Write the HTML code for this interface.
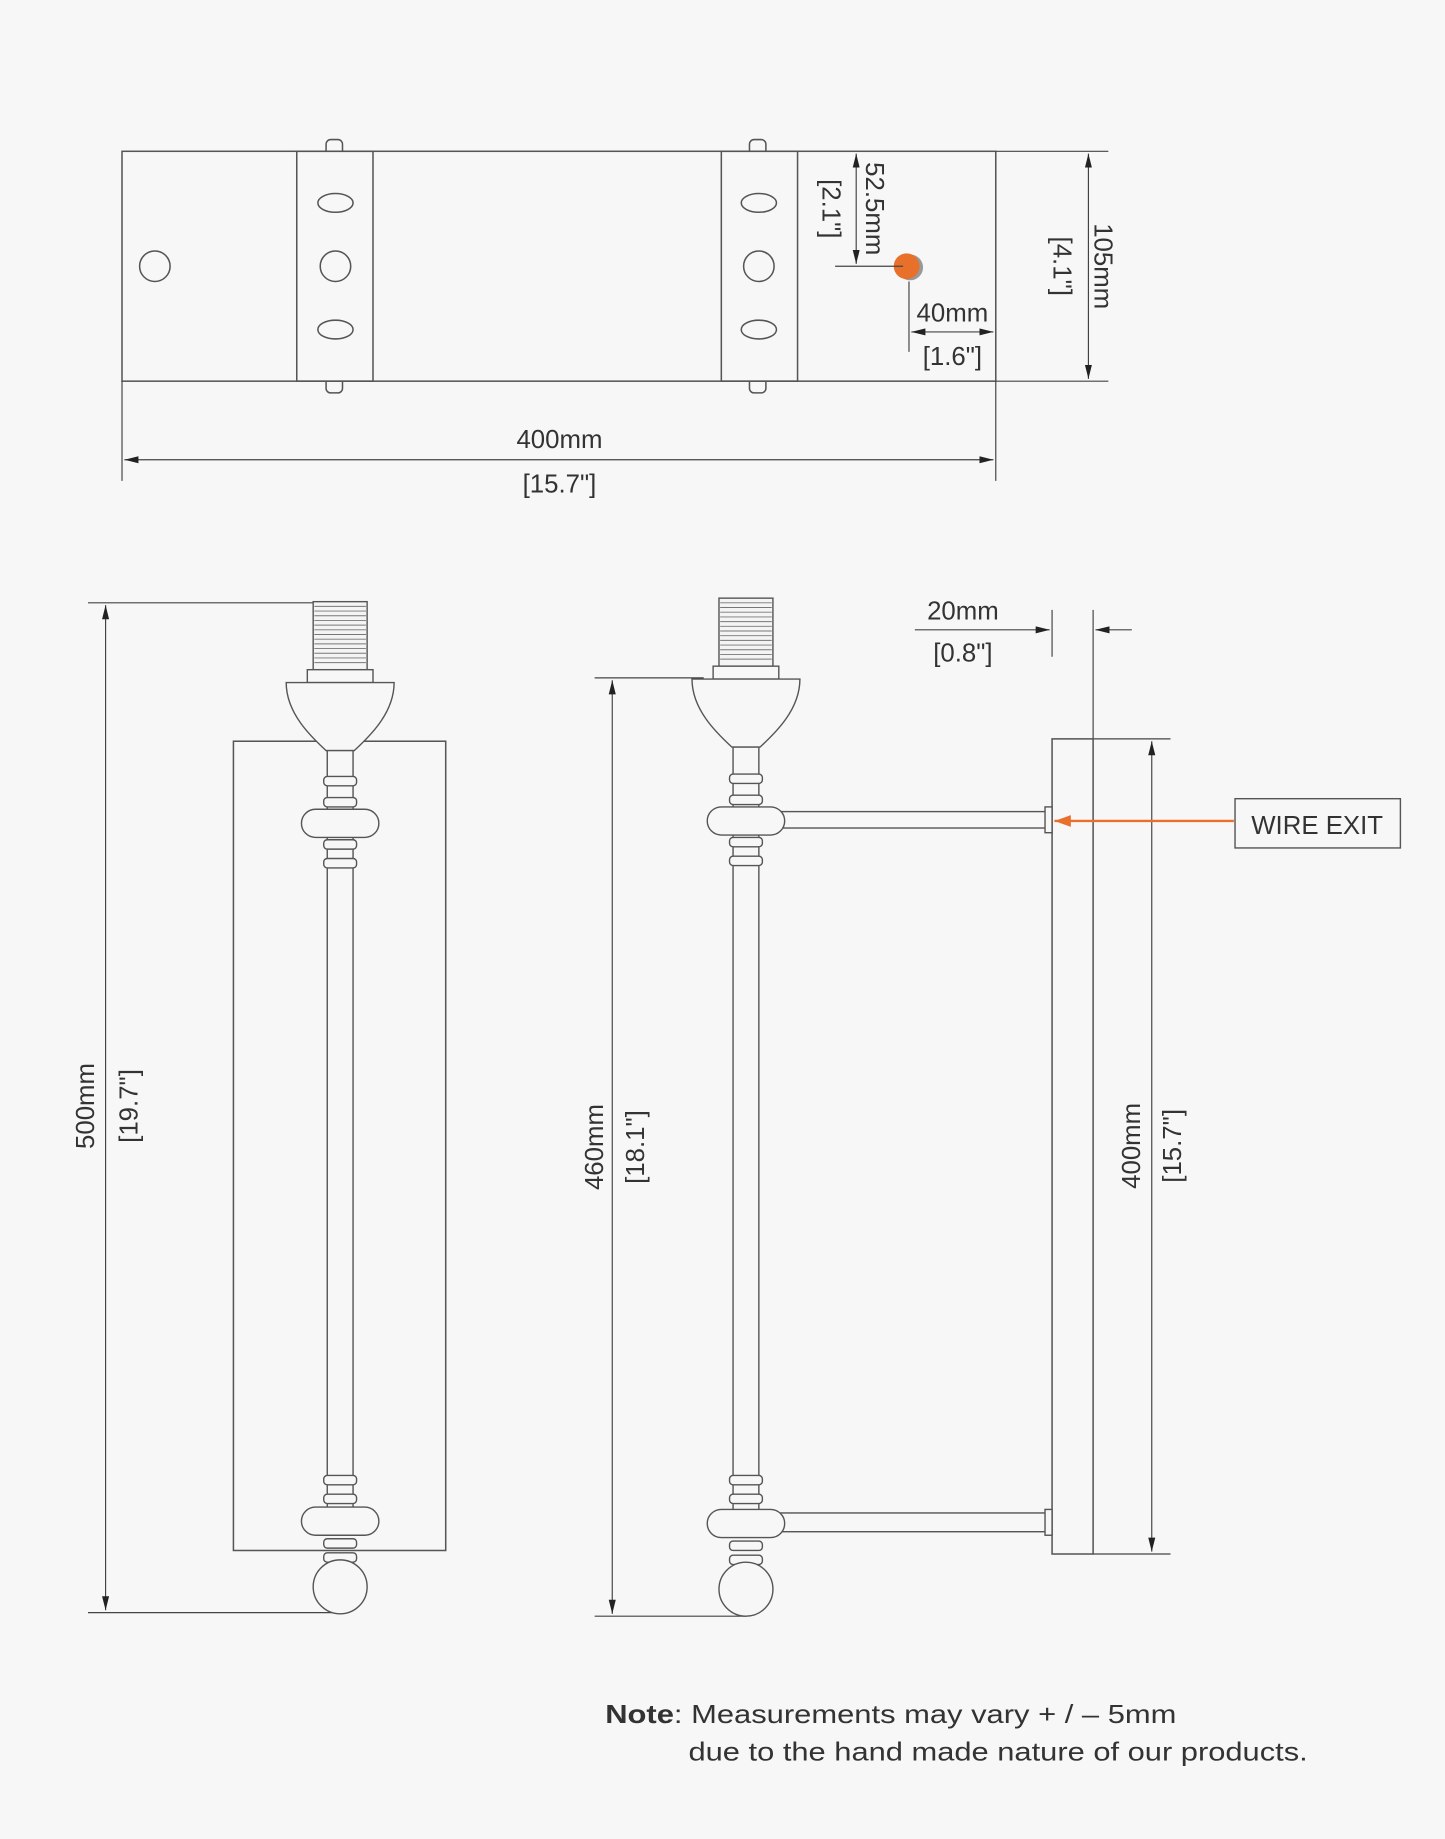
<!DOCTYPE html>
<html><head><meta charset="utf-8"><style>
html,body{margin:0;padding:0;background:#f7f7f7;}
svg{display:block;}
text{font-family:"Liberation Sans",sans-serif;fill:#333;font-size:22px;}
</style></head><body>
<svg width="1445" height="1839" viewBox="0 0 1232 1568" xmlns="http://www.w3.org/2000/svg">
<defs>
<marker id="a" viewBox="0 0 12 6" refX="12" refY="3" markerWidth="12" markerHeight="6" orient="auto-start-reverse" markerUnits="userSpaceOnUse"><path d="M0,0L12,3L0,6z" fill="#222"/></marker>
<marker id="o" viewBox="0 0 14 10" refX="14" refY="5" markerWidth="14" markerHeight="10" orient="auto" markerUnits="userSpaceOnUse"><path d="M0,0L14,5L0,10z" fill="#e8702a"/></marker>
<g id="sock">
<rect x="-23" y="0" width="46" height="58" fill="#f4f4f4" stroke="#555" stroke-width="1.2"/>
<path d="M-22,4H22M-22,8H22M-22,12H22M-22,16H22M-22,20H22M-22,24H22M-22,28H22M-22,32H22M-22,36H22M-22,40H22M-22,44H22M-22,48H22M-22,52H22" stroke="#777" stroke-width="0.8"/>
<rect x="-28" y="58" width="56" height="11" fill="#f7f7f7" stroke="#555" stroke-width="1.2"/>
<path d="M-46,69H46C46,95 25,115 12,127H-12C-25,115 -46,95 -46,69z" fill="#f7f7f7" stroke="#555" stroke-width="1.2"/>
</g>
<g id="knob">
<rect x="-33" y="-12" width="66" height="24" rx="12" fill="#f7f7f7" stroke="#555" stroke-width="1.2"/>
</g>
<g id="ring"><rect x="-14" y="-4" width="28" height="8" rx="3" fill="#f7f7f7" stroke="#555" stroke-width="1.2"/></g>
</defs>
<rect width="1232" height="1568" fill="#f7f7f7"/>
<g fill="none" stroke="#555" stroke-width="1.3">
<rect x="278" y="119" width="14" height="14" rx="4" fill="#f7f7f7"/>
<rect x="278" y="321" width="14" height="14" rx="4" fill="#f7f7f7"/>
<rect x="639" y="119" width="14" height="14" rx="4" fill="#f7f7f7"/>
<rect x="639" y="321" width="14" height="14" rx="4" fill="#f7f7f7"/>
<rect x="104" y="129" width="745" height="196" fill="#f7f7f7"/>
<rect x="253" y="129" width="65" height="196"/>
<rect x="615" y="129" width="65" height="196"/>
<circle cx="132" cy="227" r="13"/>
<ellipse cx="286" cy="173" rx="15" ry="8"/><circle cx="286" cy="227" r="13"/><ellipse cx="286" cy="281" rx="15" ry="8"/>
<ellipse cx="647" cy="173" rx="15" ry="8"/><circle cx="647" cy="227" r="13"/><ellipse cx="647" cy="281" rx="15" ry="8"/>
</g>
<circle cx="776" cy="228" r="11" fill="#999"/>
<circle cx="773" cy="227" r="11" fill="#e8702a"/>
<g stroke="#444" stroke-width="1" fill="none">
<path d="M849,129H945M849,325H945"/>
<path d="M928,131V323" marker-start="url(#a)" marker-end="url(#a)"/>
<path d="M730,131V225" marker-start="url(#a)" marker-end="url(#a)"/>
<path d="M712,227H770"/>
<path d="M775,240V300"/>
<path d="M777,283H847" marker-start="url(#a)" marker-end="url(#a)"/>
<path d="M104,325V410M849,325V410"/>
<path d="M106,392H847" marker-start="url(#a)" marker-end="url(#a)"/>
<path d="M75,514H290M75,1375H290"/>
<path d="M90,516V1373" marker-start="url(#a)" marker-end="url(#a)"/>
<path d="M507,578H600M507,1378H636"/>
<path d="M522,580V1376" marker-start="url(#a)" marker-end="url(#a)"/>
<path d="M897,520V560M932,520V630"/>
<path d="M780,537H895" marker-end="url(#a)"/>
<path d="M965,537H934" marker-end="url(#a)"/>
<path d="M932,630H998M932,1325H998"/>
<path d="M982,632V1323" marker-start="url(#a)" marker-end="url(#a)"/>
</g>
<g font-size="22" dominant-baseline="central">
<text x="940" y="227" transform="rotate(90 940 227)" text-anchor="middle">105mm</text>
<text x="905" y="227" transform="rotate(90 905 227)" text-anchor="middle">[4.1"]</text>
<text x="745" y="178" transform="rotate(90 745 178)" text-anchor="middle">52.5mm</text>
<text x="708" y="178" transform="rotate(90 708 178)" text-anchor="middle">[2.1"]</text>
</g>
<g font-size="22">
<text x="812" y="274" text-anchor="middle">40mm</text>
<text x="812" y="311" text-anchor="middle">[1.6"]</text>
<text x="477" y="382" text-anchor="middle">400mm</text>
<text x="477" y="420" text-anchor="middle">[15.7"]</text>
<text x="73" y="943" transform="rotate(-90 73 943)" text-anchor="middle" dy="7">500mm</text>
<text x="110" y="943" transform="rotate(-90 110 943)" text-anchor="middle" dy="7">[19.7"]</text>
<text x="507" y="978" transform="rotate(-90 507 978)" text-anchor="middle" dy="7">460mm</text>
<text x="542" y="978" transform="rotate(-90 542 978)" text-anchor="middle" dy="7">[18.1"]</text>
<text x="965" y="977" transform="rotate(-90 965 977)" text-anchor="middle" dy="7">400mm</text>
<text x="1000" y="977" transform="rotate(-90 1000 977)" text-anchor="middle" dy="7">[15.7"]</text>
<text x="821" y="528" text-anchor="middle">20mm</text>
<text x="821" y="564" text-anchor="middle">[0.8"]</text>
</g>
<rect x="199" y="632" width="181" height="690" fill="#f7f7f7" stroke="#555" stroke-width="1.3"/>
<g transform="translate(290,513)"><use href="#sock"/></g>
<rect x="279" y="640" width="22" height="650" fill="#f7f7f7" stroke="#555" stroke-width="1.2"/>
<g transform="translate(290,0)">
<use href="#ring" y="666"/><use href="#ring" y="684"/><use href="#knob" y="702"/><use href="#ring" y="720"/><use href="#ring" y="736"/>
<use href="#ring" y="1262"/><use href="#ring" y="1278"/><use href="#knob" y="1297"/><use href="#ring" y="1316"/><use href="#ring" y="1328"/>
<circle cx="0" cy="1353" r="23" fill="#f7f7f7" stroke="#555" stroke-width="1.2"/>
</g>
<rect x="897" y="630" width="35" height="695" fill="#f7f7f7" stroke="#555" stroke-width="1.3"/>
<rect x="660" y="692" width="233" height="14" fill="#f7f7f7" stroke="#555" stroke-width="1.2"/>
<rect x="660" y="1290" width="233" height="16" fill="#f7f7f7" stroke="#555" stroke-width="1.2"/>
<rect x="891" y="688" width="6" height="22" fill="#f7f7f7" stroke="#555" stroke-width="1.2"/>
<rect x="891" y="1287" width="6" height="22" fill="#f7f7f7" stroke="#555" stroke-width="1.2"/>
<g transform="translate(636,510)"><use href="#sock"/></g>
<rect x="625" y="637" width="22" height="653" fill="#f7f7f7" stroke="#555" stroke-width="1.2"/>
<g transform="translate(636,0)">
<use href="#ring" y="664"/><use href="#ring" y="682"/><use href="#knob" y="700"/><use href="#ring" y="718"/><use href="#ring" y="734"/>
<use href="#ring" y="1262"/><use href="#ring" y="1278"/><use href="#knob" y="1299"/><use href="#ring" y="1318"/><use href="#ring" y="1330"/>
<circle cx="0" cy="1355" r="23" fill="#f7f7f7" stroke="#555" stroke-width="1.2"/>
</g>
<path d="M1052,700H899" stroke="#e8702a" stroke-width="2" marker-end="url(#o)"/>
<rect x="1053" y="681" width="141" height="42" fill="#f7f7f7" stroke="#555" stroke-width="1.2"/>
<text x="1123" y="711" text-anchor="middle" font-size="20">WIRE EXIT</text>
<text x="516" y="1469" font-size="25" textLength="487" lengthAdjust="spacingAndGlyphs"><tspan font-weight="bold">Note</tspan>: Measurements may vary + / – 5mm</text>
<text x="587" y="1501" font-size="25" textLength="528" lengthAdjust="spacingAndGlyphs">due to the hand made nature of our products.</text>
</svg>
</body></html>
